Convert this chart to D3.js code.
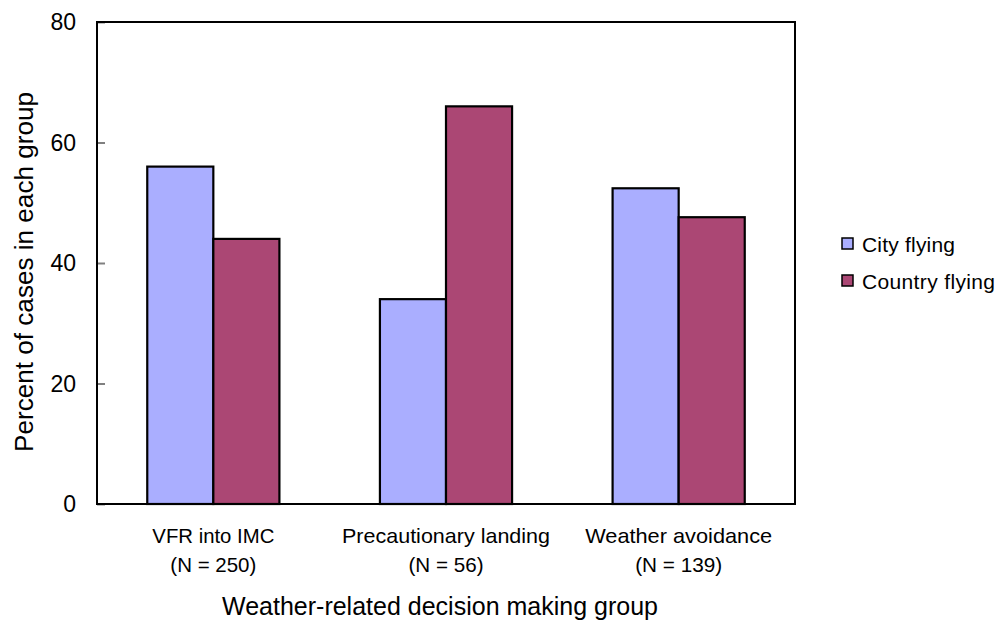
<!DOCTYPE html>
<html><head><meta charset="utf-8">
<script src="https://cdn.jsdelivr.net/npm/d3@7"></script>
<style>body{margin:0;background:#fff}svg{display:block}text{font-family:"Liberation Sans",Arial,sans-serif;fill:#000}</style>
</head><body><svg id="c" width="999" height="623"></svg>
<script>
const categories = ["VFR into IMC", "Precautionary landing", "Weather avoidance"];
const sampleSizes = ["(N = 250)", "(N = 56)", "(N = 139)"];
const seriesNames = ["City flying", "Country flying"];
const cityValues = [56, 34, 52.4];
const countryValues = [44, 66, 47.6];
const yTicks = [0, 20, 40, 60, 80];
const colors = ["#AAAEFF", "#AB4774"];

const svg = d3.select("#c");
const m = {l: 97, t: 22, r: 795, b: 504};
const x = d3.scaleBand().domain(categories).range([m.l, m.r]).paddingInner(0.432).paddingOuter(0.216);
const xs = d3.scaleBand().domain(seriesNames).range([0, x.bandwidth()]);
const y = d3.scaleLinear().domain([0, 80]).range([m.b, m.t]);
const series = [cityValues, countryValues];

// ticks (inside, gray)
const yAxis = d3.axisRight(y).tickValues(yTicks).tickSize(8).tickFormat("");
const ga = svg.append("g").attr("transform", `translate(${m.l},0)`).call(yAxis);
ga.select(".domain").remove();
ga.selectAll("line").attr("stroke", "#808080").attr("stroke-width", 2);

// tick labels
svg.selectAll(".yl").data(yTicks).join("text").attr("class", "yl")
  .attr("x", 76).attr("y", d => y(d)).attr("dy", "0.36em").attr("text-anchor", "end")
  .attr("font-size", 23).text(d => d);

// bars
categories.forEach((c, i) => {
  seriesNames.forEach((s, j) => {
    svg.append("rect")
      .attr("x", x(c) + xs(s)).attr("y", y(series[j][i]))
      .attr("width", xs.bandwidth()).attr("height", y(0) - y(series[j][i]))
      .attr("fill", colors[j]).attr("stroke", "#000").attr("stroke-width", 2.2);
  });
});

// frame
svg.append("rect").attr("x", m.l).attr("y", m.t).attr("width", m.r - m.l).attr("height", m.b - m.t)
  .attr("fill", "none").attr("stroke", "#000").attr("stroke-width", 2);

// category labels
const catW = [122, 208, 187], nW = [86, 75, 87];
categories.forEach((c, i) => {
  const cx = x(c) + x.bandwidth() / 2;
  svg.append("text").attr("x", cx).attr("y", 543).attr("text-anchor", "middle").attr("font-size", 21)
    .attr("textLength", catW[i]).attr("lengthAdjust", "spacingAndGlyphs").text(c);
  svg.append("text").attr("x", cx).attr("y", 572).attr("text-anchor", "middle").attr("font-size", 21)
    .attr("textLength", nW[i]).attr("lengthAdjust", "spacingAndGlyphs").text(sampleSizes[i]);
});

// axis titles
svg.append("text").attr("x", 440).attr("y", 615).attr("text-anchor", "middle").attr("font-size", 25)
  .attr("textLength", 436).attr("lengthAdjust", "spacingAndGlyphs").text("Weather-related decision making group");
svg.append("text").attr("transform", "translate(33,272) rotate(-90)").attr("text-anchor", "middle")
  .attr("font-size", 25).attr("textLength", 360).attr("lengthAdjust", "spacingAndGlyphs")
  .text("Percent of cases in each group");

// legend
const legW = [93, 133];
seriesNames.forEach((s, j) => {
  const ly = 244 + j * 37;
  svg.append("rect").attr("x", 842).attr("y", ly - 6).attr("width", 11).attr("height", 11)
    .attr("fill", colors[j]).attr("stroke", "#000").attr("stroke-width", 1.5);
  svg.append("text").attr("x", 862).attr("y", ly).attr("dy", "0.36em").attr("font-size", 21)
    .attr("textLength", legW[j]).attr("lengthAdjust", "spacing").text(s);
});
</script></body></html>
